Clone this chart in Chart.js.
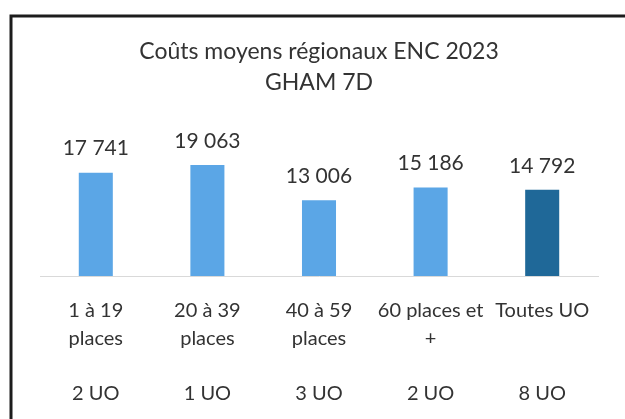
<!DOCTYPE html>
<html>
<head>
<meta charset="utf-8">
<script src="https://cdn.jsdelivr.net/npm/chart.js@4/dist/chart.umd.min.js"></script>
<style>
  html, body { margin: 0; padding: 0; background: #fff; }
  #zone { width: 625px; height: 419px; }
</style>
</head>
<body>
<div id="zone"><canvas id="graphique"></canvas></div>
<script>
// Données
const categories = [
  ['1 à 19', 'places', '', '2 UO'],
  ['20 à 39', 'places', '', '1 UO'],
  ['40 à 59', 'places', '', '3 UO'],
  ['60 places et', '+', '', '2 UO'],
  ['Toutes UO', '', '', '8 UO']
];
const couts = [17741, 19063, 13006, 15186, 14792];
const couleurs = ['#5ba6e6', '#5ba6e6', '#5ba6e6', '#5ba6e6', '#1f6898'];
const titre = ['Coûts moyens régionaux ENC 2023', 'GHAM 7D'];

const police = 'Lato, "Open Sans", sans-serif';

function formatFr(n) {
  return String(n).replace(/\B(?=(\d{3})+(?!\d))/g, ' ');
}

// cadre du scan (bord haut et gauche)
const cadre = {
  id: 'cadre',
  beforeDraw(chart) {
    const ctx = chart.ctx;
    ctx.save();
    ctx.strokeStyle = '#1c1c1c';
    ctx.lineWidth = 3;
    ctx.beginPath();
    ctx.moveTo(11, 419);
    ctx.lineTo(11, 16);
    ctx.lineTo(625, 16);
    ctx.stroke();
    ctx.restore();
  }
};

// valeurs au-dessus des barres
const etiquettes = {
  id: 'etiquettes',
  afterDatasetsDraw(chart) {
    const ctx = chart.ctx;
    const meta = chart.getDatasetMeta(0);
    ctx.save();
    ctx.font = '21px ' + police;
    ctx.fillStyle = '#333';
    ctx.textAlign = 'center';
    ctx.textBaseline = 'middle';
    meta.data.forEach((barre, i) => {
      ctx.fillText(formatFr(couts[i]), barre.x, barre.y - 24);
    });
    ctx.restore();
  }
};

new Chart(document.getElementById('graphique'), {
  type: 'bar',
  data: {
    labels: categories,
    datasets: [{
      data: couts,
      backgroundColor: couleurs,
      borderWidth: 0,
      categoryPercentage: 1,
      barPercentage: 0.305
    }]
  },
  options: {
    responsive: true,
    maintainAspectRatio: false,
    animation: false,
    layout: { padding: { left: 40, right: 27, top: 0, bottom: -9 } },
    plugins: {
      legend: { display: false },
      tooltip: { enabled: false },
      title: {
        display: true,
        text: titre,
        color: '#333',
        font: { family: police, size: 23, weight: 'normal', lineHeight: 1.35 },
        padding: { top: 36, bottom: 48 }
      }
    },
    scales: {
      x: {
        grid: { display: false, drawTicks: false },
        border: { display: true, color: '#d9d9d9', width: 1 },
        ticks: {
          color: '#333',
          padding: 21,
          autoSkip: false,
          maxRotation: 0,
          font: { family: police, size: 20, lineHeight: '27.5px' }
        }
      },
      y: {
        display: false,
        min: 0,
        max: 22300
      }
    }
  },
  plugins: [cadre, etiquettes]
});
</script>
</body>
</html>
